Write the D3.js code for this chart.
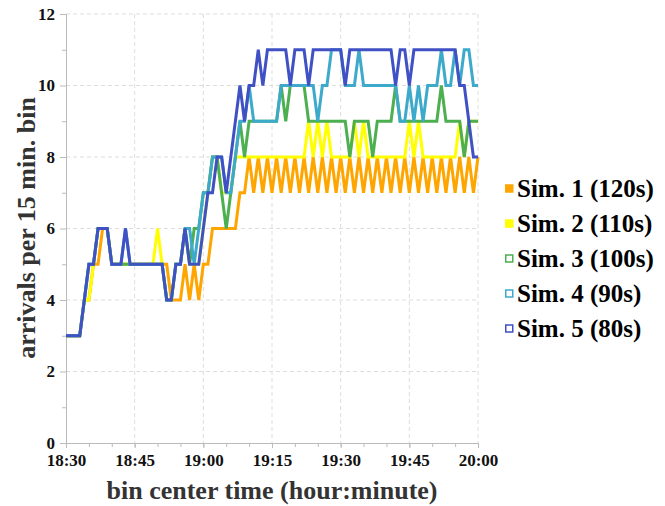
<!DOCTYPE html>
<html>
<head>
<meta charset="utf-8">
<script src="https://cdn.jsdelivr.net/npm/d3@7"></script>
<style>
  body { margin: 0; background: #fff; }
  text { font-family: "Liberation Serif", "Times New Roman", serif; font-weight: bold; }
</style>
</head>
<body>
<svg id="chart" width="665" height="506"></svg>
<script>
// bin centres, one per minute after 18:30
const binMinutes = d3.range(0, 91);

const sim1 = [3,3,3,3,4,4,5,5,6,6, 5,5,5,5,5,5,5,5,5,5, 5,5,5,4,4,4,5,4,5,4,
  5,5,6,6,6,6,6,6,7,7,
  8,7,8,7,8,7,8,7,8,7, 8,7,8,7,8,7,8,7,8,7, 8,7,8,7,8,7,8,7,8,7,
  8,7,8,7,8,7,8,7,8,7, 8,7,8,7,8,7,8,7,8,7, 8];
const sim2 = [3,3,3,3,4,4,5,6,6,6, 5,5,5,5,5,5,5,5,5,5, 6,5,4,4,5,5,6,5,5,5,
  6,7,8,8,7,7,7,8,8,8, 8,8,8,8,8,8,8,8,8,8, 8,8,8,9,8,9,8,9,8,8,
  8,8,8,9,8,9,8,8,8,8, 8,8,8,8,8,9,8,9,8,8, 8,8,8,8,8,8,9,8,9,9, 9];
const sim3 = [3,3,3,3,4,5,5,6,6,6, 5,5,5,5,5,5,5,5,5,5, 5,5,4,4,5,5,6,5,6,6,
  7,7,8,8,7,6,7,8,9,8, 9,9,9,9,9,9,9,10,9,10, 10,10,10,9,9,9,9,9,9,9,
  9,9,8,9,9,9,9,8,9,9, 9,9,10,9,9,9,9,9,9,9, 9,9,10,9,9,9,9,8,9,9, 9];
const sim4 = [3,3,3,3,4,5,5,6,6,6, 5,5,5,6,5,5,5,5,5,5, 5,5,4,4,5,5,6,6,5,6,
  7,7,8,8,8,7,7,8,9,9, 10,9,9,9,9,9,9,10,10,10, 10,10,10,10,10,9,10,10,11,11,
  11,10,10,10,11,10,10,10,10,10, 10,10,10,9,9,10,9,10,9,10, 10,10,11,10,10,11,10,11,11,10, 10];
const sim5 = [3,3,3,3,4,5,5,6,6,6, 5,5,5,6,5,5,5,5,5,5, 5,5,4,4,5,5,6,5,5,5,
  6,7,7,8,8,7,8,9,10,9, 10,10,11,10,11,11,11,11,11,10, 11,11,11,10,11,11,11,11,11,11,
  11,10,11,11,11,11,11,11,11,11, 11,11,10,11,11,10,11,11,11,11, 11,11,11,11,11,11,10,10,9,8, 8];

const seriesValues = [sim1, sim2, sim3, sim4, sim5];
const seriesNames = ["Sim. 1 (120s)", "Sim. 2 (110s)", "Sim. 3 (100s)", "Sim. 4 (90s)", "Sim. 5 (80s)"];
const seriesColors = ["#ffa500", "#ffff00", "#4caf50", "#3eaacb", "#3f51c4"];
const seriesHollow = [false, false, true, true, true];

const yTicks = [0, 2, 4, 6, 8, 10, 12];
const yMinorTicks = [1, 3, 5, 7, 9, 11];
const xTickLabels = ["18:30", "18:45", "19:00", "19:15", "19:30", "19:45", "20:00"];

const margin = { top: 14, right: 187, bottom: 63, left: 66 };
const width = 665 - margin.left - margin.right;
const height = 506 - margin.top - margin.bottom;

const parse = d3.timeParse("%H:%M");
const start = parse(xTickLabels[0]);
const xTicks = xTickLabels.map(parse);

const svg = d3.select("#chart");
const g = svg.append("g").attr("transform", `translate(${margin.left},${margin.top})`);

const x = d3.scaleTime().domain([xTicks[0], xTicks[xTicks.length - 1]]).range([0, width]);
const y = d3.scaleLinear().domain([0, 12]).range([height, 0]);

// grid
g.append("g")
  .selectAll("line")
  .data(yTicks.filter((d) => d > 0))
  .join("line")
  .attr("x1", 0)
  .attr("x2", width)
  .attr("y1", (d) => y(d))
  .attr("y2", (d) => y(d))
  .attr("stroke", "#ddd")
  .attr("stroke-dasharray", "4,3");
g.append("g")
  .selectAll("line")
  .data(xTicks.slice(1))
  .join("line")
  .attr("x1", (d) => x(d))
  .attr("x2", (d) => x(d))
  .attr("y1", 0)
  .attr("y2", height)
  .attr("stroke", "#ddd")
  .attr("stroke-dasharray", "4,3");

// axes
const xMinor = g.append("g").attr("transform", `translate(0,${height})`)
  .call(d3.axisBottom(x).ticks(d3.timeMinute.every(5)).tickSize(4).tickFormat(""));
const xAxis = g.append("g").attr("transform", `translate(0,${height})`)
  .call(d3.axisBottom(x).tickValues(xTicks).tickFormat(d3.timeFormat("%H:%M")).tickSize(5).tickPadding(6));
const yMinor = g.append("g")
  .call(d3.axisLeft(y).tickValues(yMinorTicks).tickSize(4).tickFormat(""));
const yAxis = g.append("g")
  .call(d3.axisLeft(y).tickValues(yTicks).tickSize(6).tickPadding(5));

[xMinor, xAxis, yMinor, yAxis].forEach((a) => {
  a.attr("font-family", '"Liberation Serif", serif');
  a.selectAll("path.domain").attr("stroke", "#bbb");
  a.selectAll(".tick line").attr("stroke", "#bbb");
  a.selectAll(".tick text")
    .attr("fill", "#111")
    .style("font-size", "17px")
    .style("font-family", '"Liberation Serif", serif')
    .style("font-weight", "bold");
});

// series lines, Sim. 1 at the bottom
const line = d3.line()
  .x((d, i) => x(d3.timeMinute.offset(start, binMinutes[i])))
  .y((d) => y(d));

g.append("g")
  .selectAll("path")
  .data(seriesValues)
  .join("path")
  .attr("d", (d) => line(d))
  .attr("fill", "none")
  .attr("stroke", (d, i) => seriesColors[i])
  .attr("stroke-width", 3);

// titles
svg.append("text")
  .attr("x", margin.left + width / 2)
  .attr("y", 499)
  .attr("text-anchor", "middle")
  .attr("fill", "#333")
  .style("font-size", "26px")
  .text("bin center time (hour:minute)");

svg.append("text")
  .attr("transform", "translate(35,228) rotate(-90)")
  .attr("text-anchor", "middle")
  .attr("fill", "#333")
  .style("font-size", "26px")
  .text("arrivals per 15 min. bin");

// legend
const legend = svg.append("g").attr("transform", "translate(505,189)");
const rows = legend.selectAll("g")
  .data(seriesNames)
  .join("g")
  .attr("transform", (d, i) => `translate(0,${i * 35})`);
rows.append("rect")
  .attr("x", 0.75)
  .attr("y", -4)
  .attr("width", 7)
  .attr("height", 7)
  .attr("fill", (d, i) => (seriesHollow[i] ? "#fff" : seriesColors[i]))
  .attr("stroke", (d, i) => seriesColors[i])
  .attr("stroke-width", 1.5);
rows.append("text")
  .attr("x", 12)
  .attr("y", 8)
  .attr("fill", "#000")
  .style("font-family", '"Liberation Serif", serif')
  .style("font-size", "25px")
  .text((d) => d);
</script>
</body>
</html>
